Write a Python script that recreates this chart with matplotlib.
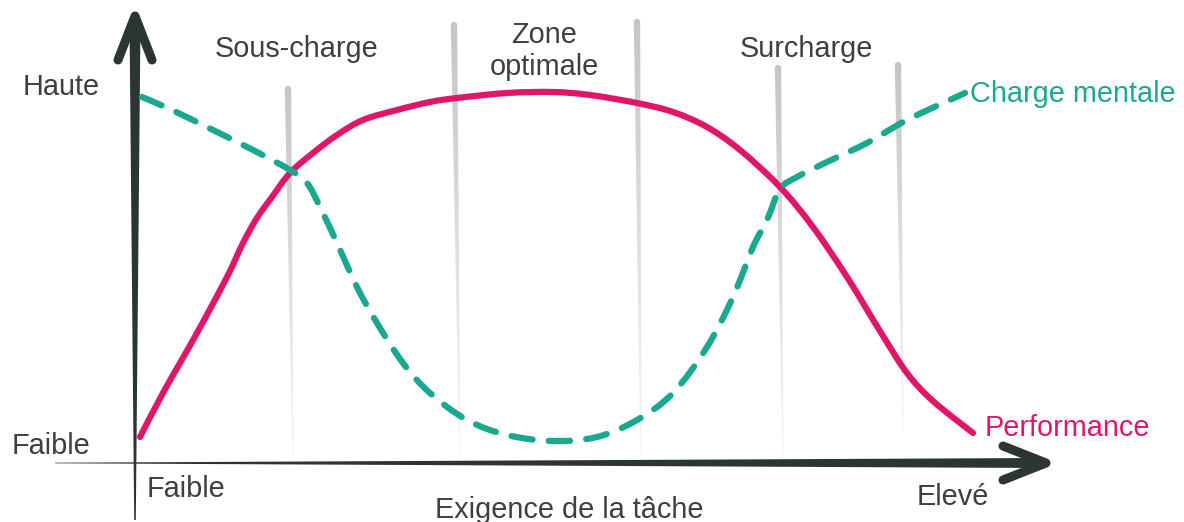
import numpy as np
import matplotlib
matplotlib.use("Agg")
import matplotlib.pyplot as plt
from matplotlib.path import Path
from matplotlib.patches import PathPatch, Polygon

plt.rcParams['font.family'] = ['Liberation Sans', 'DejaVu Sans']

perf_x = [5, 28, 62, 92, 108, 122, 137, 155, 178, 202, 228, 262, 295, 322,
          372, 418, 455, 502, 538, 572, 605, 645, 678, 712, 745, 772, 798, 838]
perf_y = [26, 70, 130, 186, 220, 245, 266, 290, 310, 328, 343, 353, 361, 365,
          370, 371, 368, 360, 351, 336, 313, 276, 236, 186, 132, 90, 62, 30]

charge_x = [7, 37, 78, 118, 155, 172, 185, 202, 222, 242, 268, 295, 332, 372,
            418, 462, 502, 538, 572, 598, 618, 632, 645, 662, 692, 732, 772, 830]
charge_y = [366, 353, 333, 313, 293, 280, 256, 220, 176, 140, 100, 70, 43, 28,
            22, 26, 43, 70, 116, 166, 216, 243, 274, 286, 301, 320, 343, 370]

# limites des zones (haut, bas)
zone_x_top = [153, 319, 502, 643, 763]
zone_y_top = [374, 438, 441, 395, 398]
zone_x_bot = [158, 325, 506, 648, 768]
zone_y_bot = [3, 3, 3, 3, 31]

zone_labels = ["Sous-charge", "Zone\noptimale", "Surcharge"]
zone_label_x = [162, 409, 671]

pink = '#E0166A'
teal = '#1AA88F'
dark = '#2B3634'
txt = '#3B4040'


def smooth_path(xs, ys):
    # catmull-rom -> bezier cubique
    p = np.column_stack([xs, ys]).astype(float)
    pts = np.vstack([p[0], p, p[-1]])
    verts = [p[0]]
    codes = [Path.MOVETO]
    for i in range(1, len(pts) - 2):
        c1 = pts[i] + (pts[i + 1] - pts[i - 1]) / 6.0
        c2 = pts[i + 1] - (pts[i + 2] - pts[i]) / 6.0
        verts += [c1, c2, pts[i + 1]]
        codes += [Path.CURVE4] * 3
    return Path(verts, codes)


def taper_poly(x0, y0, x1, y1, h0, h1):
    d = np.array([x1 - x0, y1 - y0], float)
    n = np.array([-d[1], d[0]]) / np.hypot(*d)
    a = np.array([x0, y0])
    b = np.array([x1, y1])
    return np.array([a + n * h0, b + n * h1, b - n * h1, a - n * h0])


fig = plt.figure(figsize=(11.84, 5.22), dpi=100)
ax = fig.add_axes([0, 0, 1, 1])

# lignes grises des zones, degradees vers le bas
grad = np.linspace(1, 0.15, 256).reshape(-1, 1)
gray_cmap = matplotlib.colors.LinearSegmentedColormap.from_list(
    'g', ['#FFFFFF', '#C4C6C6'])
for xt, yt, xb, yb in zip(zone_x_top, zone_y_top, zone_x_bot, zone_y_bot):
    poly = Polygon(taper_poly(xt, yt, xb, yb, 3.2, 0.5), closed=True,
                   fc='none', ec='none')
    ax.add_patch(poly)
    im = ax.imshow(grad, cmap=gray_cmap, vmin=0, vmax=1, aspect='auto',
                   extent=(xt - 6, xb + 6, yb, yt + 4), origin='upper',
                   interpolation='bilinear')
    im.set_clip_path(poly)
    ax.add_patch(matplotlib.patches.Circle((xt, yt), 3.2, color='#C4C6C6', lw=0))

ax.set_xlim(-135, 1049)
ax.set_ylim(-59, 463)
ax.axis('off')

# axes
ax.add_patch(Polygon(taper_poly(-80, 0, 905, 0, 0.3, 5.0), closed=True,
                     fc=dark, ec='none'))
ax.plot([868, 911, 868], [17, 0, -17], color=dark, lw=6.5,
        solid_capstyle='round', solid_joinstyle='round')
ax.add_patch(Polygon(taper_poly(0, -57, 0, 440, 0.8, 5.5), closed=True,
                     fc=dark, ec='none'))
ax.plot([-17, 0, 17], [403, 447, 403], color=dark, lw=6.5,
        solid_capstyle='round', solid_joinstyle='round')

# courbes
ax.add_patch(PathPatch(smooth_path(perf_x, perf_y), fc='none', ec=pink,
                       lw=4.5, capstyle='round', joinstyle='round', zorder=3))
ax.add_patch(PathPatch(smooth_path(charge_x, charge_y), fc='none', ec=teal,
                       lw=4.5, ls=(0, (3.4, 2.6)), capstyle='round', zorder=4))

fs = 20.8
ax.text(-112, 368, "Haute", fontsize=fs, color=txt, ha='left', va='baseline')
ax.text(-123, 9, "Faible", fontsize=fs, color=txt, ha='left', va='baseline')
ax.text(12, -34, "Faible", fontsize=fs, color=txt, ha='left', va='baseline')
ax.text(782, -42, "Elevé", fontsize=fs, color=txt, ha='left', va='baseline')
ax.text(434, -55, "Exigence de la tâche", fontsize=fs, color=txt,
        ha='center', va='baseline')

for lab, lx in zip(zone_labels, zone_label_x):
    if "\n" in lab:
        a, b = lab.split("\n")
        ax.text(lx, 420, a, fontsize=fs, color=txt, ha='center', va='baseline')
        ax.text(lx, 388, b, fontsize=fs, color=txt, ha='center', va='baseline')
    else:
        ax.text(lx, 406, lab, fontsize=fs, color=txt, ha='center', va='baseline')

ax.text(835, 361, "Charge mentale", fontsize=fs, color=teal, ha='left', va='baseline')
ax.text(850, 27, "Performance", fontsize=fs, color=pink, ha='left', va='baseline')

fig.savefig("out.png", dpi=100)
